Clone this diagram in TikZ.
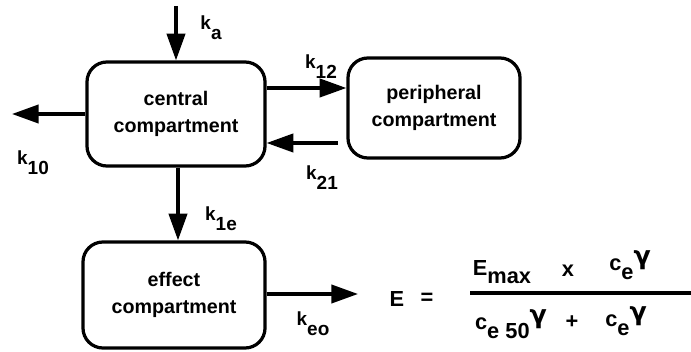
\documentclass[tikz,border=0pt]{standalone}
\usepackage{fontspec}
\setmainfont{Liberation Sans}
\newfontfamily\greekfont{DejaVu Sans}
\usetikzlibrary{arrows.meta}

\newcommand{\kr}[1]{k\raisebox{-1.0ex}{#1}}
\newcommand{\lowr}[1]{\raisebox{-0.7ex}{#1}}
\newcommand{\gam}{\raisebox{0.55ex}{\greekfont\fontsize{18}{18}\selectfont γ}}

\tikzset{
  compart/.style={draw, line width=2.3pt, rounded corners=0.5cm, align=center,
    font=\fontsize{14}{19}\selectfont\bfseries, inner sep=0pt},
  flow/.style={line width=2.3pt, -{Triangle[length=19pt,width=13pt]}},
  rate/.style={font=\fontsize{13.5}{15}\selectfont\bfseries, inner sep=0pt},
  eqn/.style={font=\fontsize{15.5}{17}\selectfont\bfseries, inner sep=0pt}
}

\begin{document}
\begin{tikzpicture}[x=0.025cm,y=-0.025cm]
    \useasboundingbox (0,0) rectangle (691,352);
    % compartments
    \node[compart, minimum width=4.45cm, minimum height=2.6cm] (central) at (176,114) {central\\compartment};
    \node[compart, minimum width=4.3cm, minimum height=2.5cm] (periph) at (434,108) {peripheral\\compartment};
    \node[compart, minimum width=4.55cm, minimum height=2.65cm] (effect) at (174,295) {effect\\compartment};
    % free ends
    \coordinate (dose) at (176,6);
    \coordinate (elim) at (12,114);
    \coordinate (out) at (358,294);
    % flows
    \draw[flow] (dose) -- (central.north);
    \draw[flow] (central.west) -- (elim);
    \draw[flow] (central.east |- 0,88) -- (periph.west |- 0,88);
    \draw[flow] ([xshift=-6pt]periph.west |- 0,143) -- (central.east |- 0,143);
    \draw[flow] (central.south -| 178,0) -- (effect.north -| 178,0);
    \draw[flow] (effect.east |- out) -- (out);
    % rate constants
    \node[rate] (ka) at (211,28) {\kr{a}};
    \node[rate] (k10) at (33,163) {\kr{10}};
    \node[rate] (k12) at (321,67) {\kr{12}};
    \node[rate] (k21) at (322,178) {\kr{21}};
    \node[rate] (k1e) at (221,219) {\kr{1e}};
    \node[rate] (keo) at (313,324) {\kr{eo}};
    % effect model
    \node[eqn] (lhs) at (397,299) {E};
    \node[eqn] (eq) at (427,299) {=};
    \node[eqn] (emax) at (502,272) {E\lowr{max}};
    \node[eqn] (times) at (568,271) {x};
    \node[eqn] (cnum) at (630,265) {c\lowr{e}\gam};
    \draw[line width=2.3pt] (470,293) -- (691,293);
    \node[eqn] (cden) at (511,324) {c\lowr{e 50}\gam};
    \node[eqn] (plus) at (572,322) {+};
    \node[eqn] (cden2) at (626,321) {c\lowr{e}\gam};
\end{tikzpicture}
\end{document}
